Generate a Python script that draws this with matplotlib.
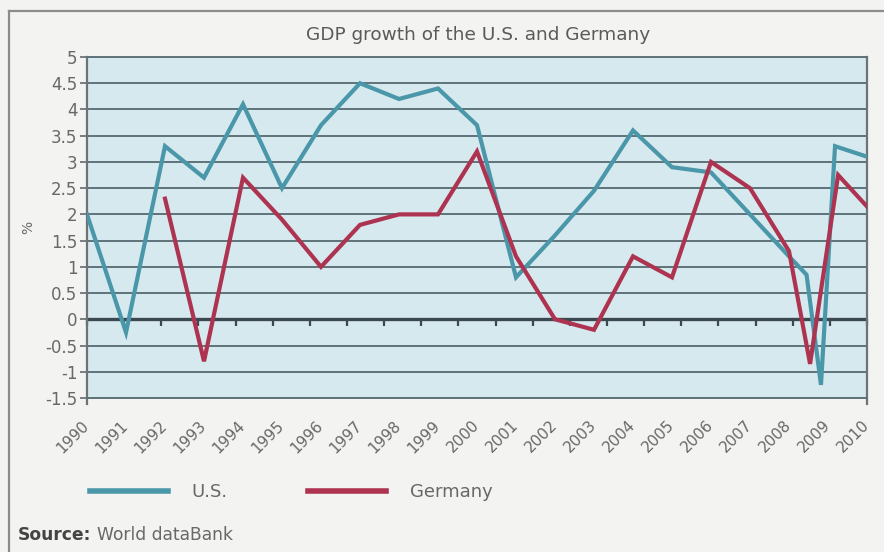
import matplotlib
matplotlib.use("Agg")
import matplotlib.pyplot as plt
from matplotlib.lines import Line2D
import numpy as np

# ---- data -------------------------------------------------------------
years = list(range(1990, 2011))
year_labels = [str(y) for y in years]

us_x = [1990, 1991, 1992, 1993, 1994, 1995, 1996, 1997, 1998, 1999, 2000,
        2001, 2002, 2003, 2004, 2005, 2006, 2007, 2008,
        2008.45, 2008.82, 2009.18, 2010]
us_gdp = [2.0, -0.25, 3.3, 2.7, 4.1, 2.5, 3.7, 4.5, 4.2, 4.4, 3.7,
          0.8, 1.6, 2.45, 3.6, 2.9, 2.8, 2.0, 1.2,
          0.85, -1.25, 3.3, 3.1]

de_x = [1992, 1993, 1994, 1995, 1996, 1997, 1998, 1999, 2000,
        2001, 2002, 2003, 2004, 2005, 2006, 2007, 2008,
        2008.54, 2009.26, 2010]
de_gdp = [2.3, -0.8, 2.7, 1.9, 1.0, 1.8, 2.0, 2.0, 3.2,
          1.2, 0.0, -0.2, 1.2, 0.8, 3.0, 2.5, 1.3,
          -0.85, 2.75, 2.15]

y_ticks = [-1.5, -1, -0.5, 0, 0.5, 1, 1.5, 2, 2.5, 3, 3.5, 4, 4.5, 5]
y_labels = ["-1.5", "-1", "-0.5", "0", "0.5", "1", "1.5", "2", "2.5",
            "3", "3.5", "4", "4.5", "5"]

series_names = ["U.S.", "Germany"]
title = "GDP growth of the U.S. and Germany"

# ---- style ------------------------------------------------------------
US_COLOR = "#4b97aa"
DE_COLOR = "#ad3350"
GRID_COLOR = "#5e7279"
AXIS_COLOR = "#3c4850"
TEXT_COLOR = "#686868"
PLOT_BG = "#d6e9ee"
PAGE_BG = "#f3f3f1"

plt.rcParams["font.family"] = ["DejaVu Sans"]

W, H = 884, 552
fig = plt.figure(figsize=(W / 100, H / 100), dpi=100, facecolor=PAGE_BG)
ax = fig.add_axes([87 / W, 1 - 398 / H, 780 / W, 341 / H])
ax.set_facecolor(PLOT_BG)
ax.set_xlim(years[0], years[-1])
ax.set_ylim(y_ticks[0], y_ticks[-1])

# horizontal grid
ax.set_yticks(y_ticks, y_labels)
ax.yaxis.grid(True, color=GRID_COLOR, lw=1.4)
ax.set_axisbelow(True)
ax.axhline(0, color=AXIS_COLOR, lw=2.4, zorder=1.5)

# spines
for side in ("top", "bottom"):
    ax.spines[side].set_color(GRID_COLOR)
    ax.spines[side].set_linewidth(1.4)
for side in ("left", "right"):
    ax.spines[side].set_color("#6d7478")
    ax.spines[side].set_linewidth(1.6)
    ax.spines[side].set_bounds(-1.62, 5)

ax.tick_params(axis="y", direction="out", length=5, width=1.3,
               color="#6d7478", labelcolor=TEXT_COLOR, labelsize=12, pad=2)

# year labels along the bottom
ax.set_xticks(years, year_labels)
ax.tick_params(axis="x", length=0, labelcolor=TEXT_COLOR, labelsize=11,
               pad=18)
for lbl in ax.get_xticklabels():
    lbl.set_rotation(45)
    lbl.set_ha("right")
    lbl.set_va("center")
    lbl.set_rotation_mode("anchor")

# category tick marks on the zero line
zero_pos = (0 - y_ticks[0]) / (y_ticks[-1] - y_ticks[0])
sec = ax.secondary_xaxis(zero_pos)
sec.set_xticks(np.linspace(years[0], years[-1], len(years) + 1))
sec.tick_params(direction="out", length=5, width=1.6, color=AXIS_COLOR,
                labelbottom=False)
sec.spines["bottom"].set_visible(False)

# series
ax.plot(us_x, us_gdp, color=US_COLOR, lw=3.0, zorder=3,
        solid_joinstyle="miter")
ax.plot(de_x, de_gdp, color=DE_COLOR, lw=3.0, zorder=4,
        solid_joinstyle="miter")

# y-axis unit
fig.text(28 / W, 1 - 227 / H, "%", rotation=90, ha="center", va="center",
         color=TEXT_COLOR, fontsize=10)

# title
fig.text(478 / W, 1 - 40 / H, title, ha="center", va="baseline",
         color="#5a5a5a", fontsize=13.3)

# legend
handles = [Line2D([], [], color=US_COLOR, lw=4),
           Line2D([], [], color=DE_COLOR, lw=4)]
leg = fig.legend(handles, series_names, loc="center left",
                 bbox_to_anchor=(90 / W, 1 - 492 / H), ncol=2, frameon=False,
                 handlelength=4.3, handletextpad=1.3, columnspacing=4.5,
                 fontsize=13, borderpad=0, borderaxespad=0)
for t in leg.get_texts():
    t.set_color(TEXT_COLOR)

# source line
src = fig.text(18 / W, 1 - 540 / H, "Source:", fontweight="bold",
               color="#444444", fontsize=12.3, va="baseline")
ax.annotate("World dataBank", xy=(1, 0), xycoords=src,
            xytext=(4, 0), textcoords="offset points", va="bottom",
            color=TEXT_COLOR, fontsize=12.3, annotation_clip=False)

# page frame
fig.add_artist(Line2D([9 / W, 9 / W], [0, 1 - 11 / H],
                      transform=fig.transFigure, color="#8c8c8c", lw=1.6))
fig.add_artist(Line2D([9 / W, 1], [1 - 11 / H, 1 - 11 / H],
                      transform=fig.transFigure, color="#8c8c8c", lw=1.6))

fig.savefig("out.png", dpi=100, facecolor=PAGE_BG)
